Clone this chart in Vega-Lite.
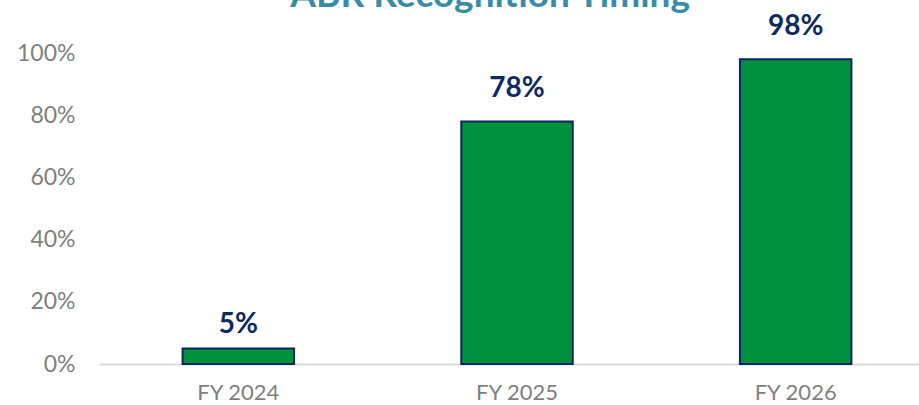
{
  "$schema": "https://vega.github.io/schema/vega-lite/v6.json",
  "autosize": {"type": "none"},
  "padding": {"left": 99, "top": 53, "right": 0, "bottom": 41},
  "width": 820,
  "height": 311,
  "background": "white",
  "title": {
    "text": "ABR Recognition Timing ⁽¹⁾",
    "color": "#3a8ca6",
    "font": "Lato",
    "fontWeight": "bold",
    "fontSize": 37,
    "anchor": "middle",
    "baseline": "alphabetic",
    "dx": -2,
    "dy": 73,
    "offset": 42
  },
  "data": {
    "values": [
      {"year": "FY 2024", "share": 0.05},
      {"year": "FY 2025", "share": 0.78},
      {"year": "FY 2026", "share": 0.98}
    ]
  },
  "encoding": {
    "x": {
      "field": "year",
      "type": "nominal",
      "sort": null,
      "scale": {"range": [0, 836], "paddingInner": 0.6, "paddingOuter": 0.3},
      "axis": {
        "title": null,
        "labelAngle": 0,
        "labelFont": "Lato",
        "labelFontSize": 22,
        "labelColor": "#7f7f7f",
        "labelPadding": 18,
        "ticks": false,
        "domainColor": "#d9d9d9",
        "domainWidth": 2
      }
    },
    "y": {
      "field": "share",
      "type": "quantitative",
      "scale": {"domain": [0, 1]},
      "axis": {
        "title": null,
        "format": ".0%",
        "values": [0, 0.2, 0.4, 0.6, 0.8, 1],
        "labelFont": "Lato",
        "labelFontSize": 23,
        "labelColor": "#7f7f7f",
        "labelPadding": 24,
        "ticks": false,
        "domain": false,
        "grid": false
      }
    }
  },
  "layer": [
    {
      "mark": {"type": "bar", "color": "#00913f", "stroke": "#0b2462", "strokeWidth": 2}
    },
    {
      "transform": [{"filter": "datum.share >= 0.5"}],
      "mark": {"type": "text", "baseline": "alphabetic", "dy": -24, "font": "Lato", "fontWeight": "bold", "fontSize": 28, "color": "#0d2b61"},
      "encoding": {"text": {"field": "share", "type": "quantitative", "format": ".0%"}}
    },
    {
      "transform": [{"filter": "datum.share < 0.5"}],
      "mark": {"type": "text", "baseline": "alphabetic", "dy": -15, "font": "Lato", "fontWeight": "bold", "fontSize": 28, "color": "#0d2b61"},
      "encoding": {"text": {"field": "share", "type": "quantitative", "format": ".0%"}}
    }
  ],
  "config": {"view": {"stroke": null}}
}
